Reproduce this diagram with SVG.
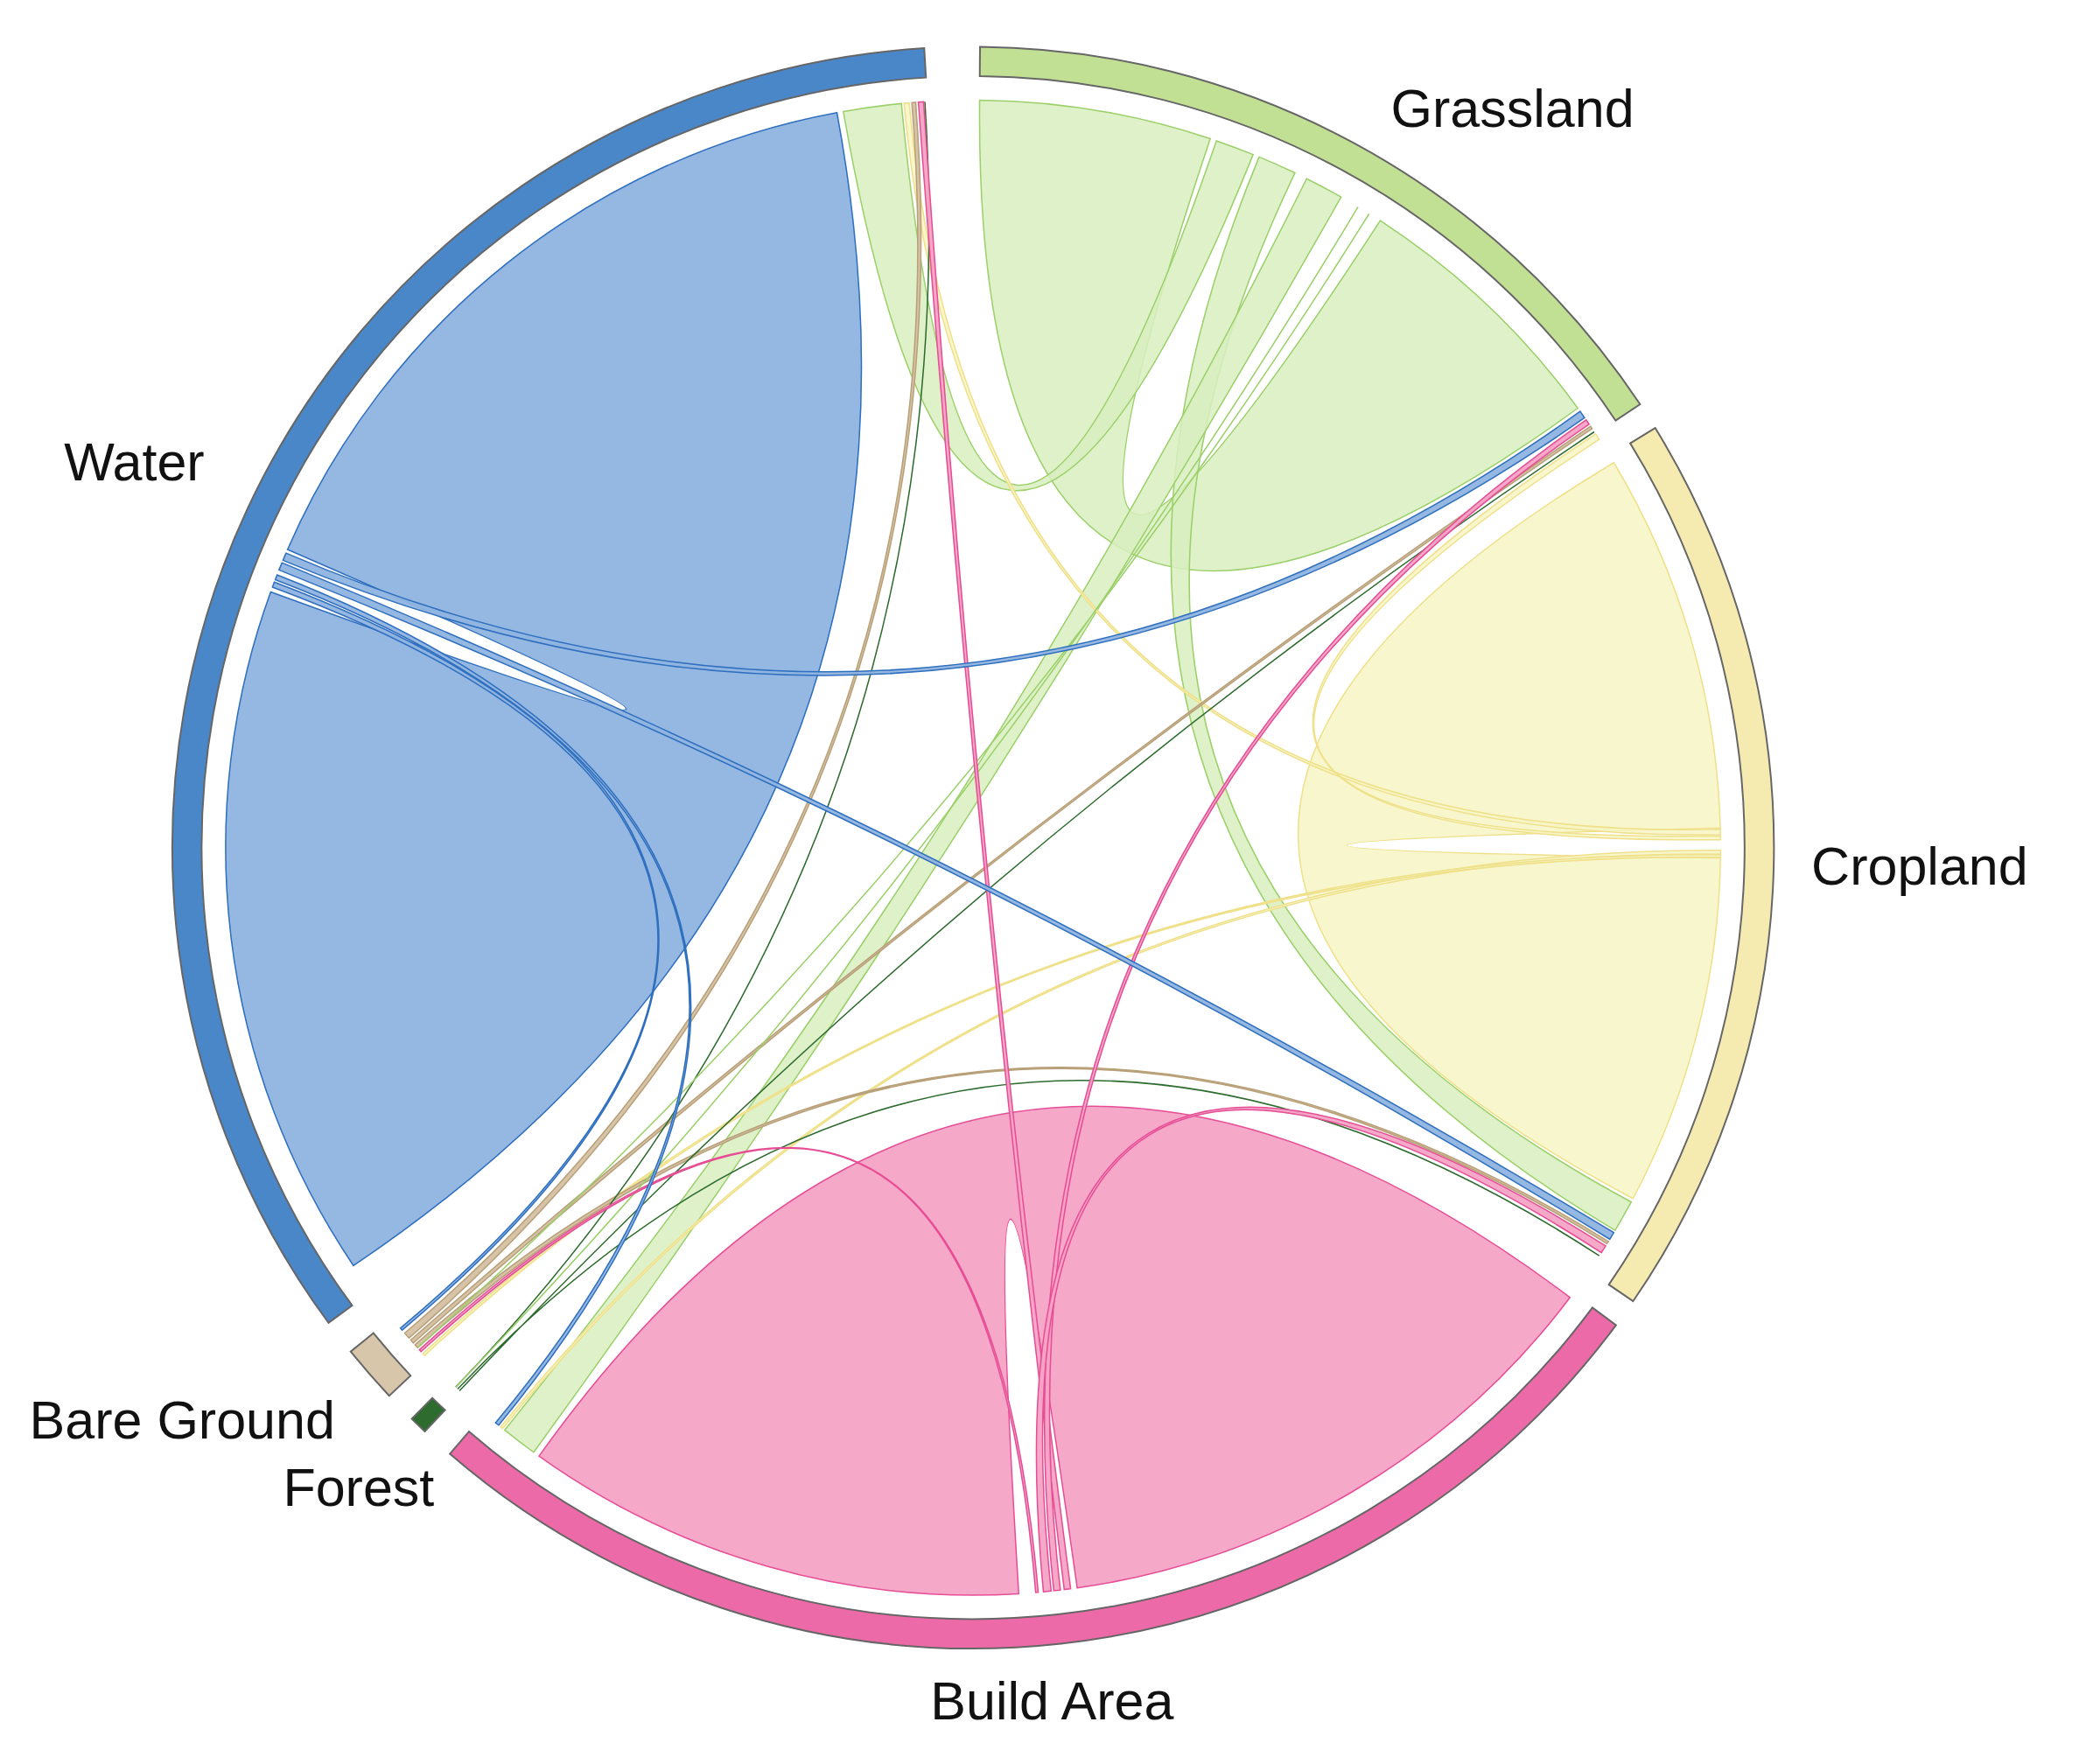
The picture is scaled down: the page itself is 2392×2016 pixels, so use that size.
<svg xmlns="http://www.w3.org/2000/svg" width="2392" height="2016" viewBox="0 0 2392 2016">
<style>
.ring{stroke:#666;stroke-width:1.3}
.lbl{font-family:"Liberation Sans",Arial,sans-serif;font-size:40px;fill:#111}
.w{fill:#8fb4e0;stroke:#2f6fbf;stroke-width:1;fill-opacity:.95}
.g{fill:#d9eec0;stroke:#9bd06a;stroke-width:1;fill-opacity:.85}
.c{fill:#f7f5c4;stroke:#efe08a;stroke-width:1;fill-opacity:.85}
.b{fill:#f5a3c6;stroke:#e64d95;stroke-width:1;fill-opacity:.95}
.t{fill:#d6c3a8;stroke:#b8a078;stroke-width:1}
.f{fill:none;stroke:#2e6b2e;stroke-width:1}
.gl{fill:none;stroke:#9bd06a;stroke-width:1}
</style>
<rect width="2392" height="2016" fill="#fff"/>
<g transform="scale(1.5255)">
<g id="connectors">
<path class="w" d="M215.4,411.7 A560,560 0 0 1 627,84.4 Q729,635 264.8,948.2 A560,560 0 0 1 202.8,443.5 Q729,635 215.4,411.7Z"/>
<path class="c" d="M1209,346.6 A560,560 0 0 1 1288.8,620.3 Q729,635 1288.9,642.8 A560,560 0 0 1 1223.4,897.9 Q729,635 1209,346.6Z"/>
<path class="g" d="M733.9,75 A560,560 0 0 1 906.7,103.9 Q729,635 1034,165.3 A560,560 0 0 1 1182,305.8 Q729,635 733.9,75Z"/>
<path class="b" d="M1176.2,972 A560,560 0 0 1 807,1189.6 Q729,635 763.2,1194 A560,560 0 0 1 403.8,1090.9 Q729,635 1176.2,972Z"/>
<path class="g" d="M911.3,105.5 A560,560 0 0 1 938.8,115.8 Q729,635 631.8,83.5 A560,560 0 0 1 675.3,77.6 Q729,635 911.3,105.5Z"/>
<path class="g" d="M943.3,117.6 A560,560 0 0 1 970.1,129.5 Q729,635 1222.1,900.5 A560,560 0 0 1 1210,921.7 Q729,635 943.3,117.6Z"/>
<path class="g" d="M978.9,133.9 A560,560 0 0 1 1004.7,147.6 Q729,635 399.8,1088 A560,560 0 0 1 378.1,1071.4 Q729,635 978.9,133.9Z"/>
<path class="c" d="M1288.8,621.3 A560,560 0 0 1 1288.9,625.2 Q729,635 677.3,77.4 A560,560 0 0 1 681.2,77.1 Q729,635 1288.8,621.3Z"/>
<path class="c" d="M1288.9,626.2 A560,560 0 0 1 1289,629.1 Q729,635 1195.4,325.1 A560,560 0 0 1 1198.1,329.2 Q729,635 1288.9,626.2Z"/>
<path class="c" d="M1289,637 A560,560 0 0 1 1289,639.9 Q729,635 376.6,1070.2 A560,560 0 0 1 375.1,1069 Q729,635 1289,637Z"/>
<path class="c" d="M1289,640.4 A560,560 0 0 1 1289,642.3 Q729,635 318.1,1015.5 A560,560 0 0 1 316.8,1014.1 Q729,635 1289,640.4Z"/>
<path class="t" d="M306.4,1002.4 A560,560 0 0 1 303.2,998.7 Q729,635 683.1,76.9 A560,560 0 0 1 686,76.6 Q729,635 306.4,1002.4Z"/>
<path class="t" d="M309.6,1006.1 A560,560 0 0 1 307.7,1003.9 Q729,635 1191.6,319.4 A560,560 0 0 1 1192.7,321.1 Q729,635 309.6,1006.1Z"/>
<path class="t" d="M312.9,1009.7 A560,560 0 0 1 310.9,1007.5 Q729,635 1205,930.1 A560,560 0 0 1 1203.9,931.7 Q729,635 312.9,1009.7Z"/>
<path class="f" d="M344.2,1041.9 Q729,635 1194.4,323.5 M342.8,1040.6 Q729,635 1198.1,940.8 M341.4,1039.2 Q729,635 692.9,76.2"/>
<path class="gl" d="M1017.4,155 Q729,635 341.4,1039.2 M1025.7,160.1 Q729,635 312.9,1009.7"/>
<path class="b" d="M802.1,1190.2 A560,560 0 0 1 797.3,1190.8 Q729,635 688,76.5 A560,560 0 0 1 691.9,76.2 Q729,635 802.1,1190.2Z"/>
<path class="b" d="M794.4,1191.2 A560,560 0 0 1 789.5,1191.7 Q729,635 1188.3,314.6 A560,560 0 0 1 1190.5,317.8 Q729,635 794.4,1191.2Z"/>
<path class="b" d="M787.5,1191.9 A560,560 0 0 1 781.7,1192.5 Q729,635 1202.9,933.4 A560,560 0 0 1 1199.7,938.4 Q729,635 787.5,1191.9Z"/>
<path class="b" d="M777.8,1192.9 A560,560 0 0 1 775.9,1193 Q729,635 315.4,1012.6 A560,560 0 0 1 314.2,1011.2 Q729,635 777.8,1192.9Z"/>
<path class="w" d="M212,419.8 A560,560 0 0 1 214.3,414.4 Q729,635 1183.8,308.2 A560,560 0 0 1 1187.1,313 Q729,635 212,419.8Z"/>
<path class="w" d="M209,427 A560,560 0 0 1 211.3,421.6 Q729,635 1209,923.4 A560,560 0 0 1 1206,928.4 Q729,635 209,427Z"/>
<path class="w" d="M206.2,434.3 A560,560 0 0 1 207.6,430.7 Q729,635 373.6,1067.7 A560,560 0 0 1 371.3,1065.9 Q729,635 206.2,434.3Z"/>
<path class="w" d="M204.1,439.8 A560,560 0 0 1 205.5,436.1 Q729,635 301.3,996.5 A560,560 0 0 1 300,995 Q729,635 204.1,439.8Z"/>
</g>
<g id="water"><path class="ring" fill="#4a87c8" d="M246.1,991 A600,600 0 0 1 692.4,36.1 L693.7,58.1 A578,578 0 0 0 263.8,978 Z"/><text class="lbl" x="48" y="360">Water</text></g>
<g id="grassland"><path class="ring" fill="#c2e094" d="M734.2,35 A600,600 0 0 1 1228.7,302.9 L1210.4,315.1 A578,578 0 0 0 734,57 Z"/><text class="lbl" x="1042" y="95">Grassland</text></g>
<g id="cropland"><path class="ring" fill="#f5eab0" d="M1240,320.6 A600,600 0 0 1 1223.5,974.8 L1205.3,962.4 A578,578 0 0 0 1221.3,332.1 Z"/><text class="lbl" x="1357" y="663">Cropland</text></g>
<g id="build"><path class="ring" fill="#ec6aa7" d="M1210.7,992.7 A600,600 0 0 1 337,1089.2 L351.3,1072.5 A578,578 0 0 0 1193,979.6 Z"/><text class="lbl" x="697" y="1288">Build Area</text></g>
<g id="forest"><path class="ring" fill="#2e6b2e" d="M318.3,1072.4 A600,600 0 0 1 308.5,1063 L323.9,1047.3 A578,578 0 0 0 333.4,1056.4 Z"/><text class="lbl" x="212" y="1128">Forest</text></g>
<g id="bare"><path class="ring" fill="#d8c6aa" d="M291.6,1045.7 A600,600 0 0 1 262.7,1012.6 L279.8,998.7 A578,578 0 0 0 307.6,1030.6 Z"/><text class="lbl" x="22" y="1078">Bare Ground</text></g>
</g>
</svg>
